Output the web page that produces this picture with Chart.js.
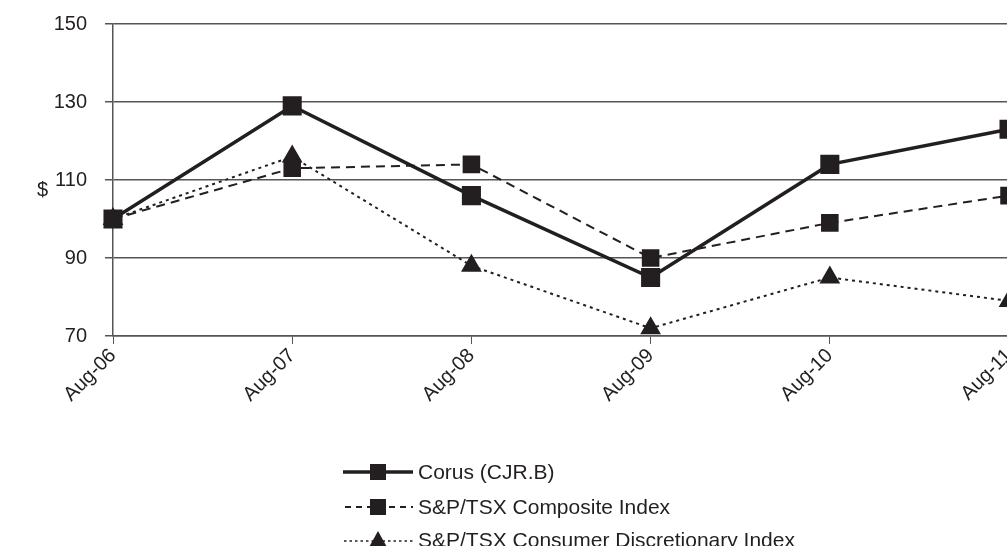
<!DOCTYPE html>
<html>
<head>
<meta charset="utf-8">
<script src="https://cdn.jsdelivr.net/npm/chart.js@4.4.1/dist/chart.umd.min.js"></script>
<style>
  html, body { margin: 0; padding: 0; background: #fff; overflow: hidden; }
  #wrap { position: relative; width: 1007px; height: 546px; overflow: hidden; font-family: "Liberation Sans", Arial, sans-serif; color: #231f20; }
  #box { position: absolute; left: 0; top: 0; width: 1026px; height: 546px; }
  #dollar { position: absolute; left: 37px; top: 178px; font-size: 20px; }
  .leg { position: absolute; left: 342px; height: 26px; display: flex; align-items: center; font-size: 21px; }
  .leg svg { margin-right: 4px; }
</style>
</head>
<body>
<div id="wrap">
  <div id="box"><canvas id="lineChart"></canvas></div>
  <div id="dollar">$</div>
  <div class="leg" style="top:459px">
    <svg width="72" height="26"><line x1="1" y1="13" x2="71" y2="13" stroke="#231f20" stroke-width="3.5"/><rect x="28" y="5" width="16" height="16" fill="#231f20"/></svg>
    <span>Corus (CJR.B)</span>
  </div>
  <div class="leg" style="top:494px">
    <svg width="72" height="26"><line x1="3" y1="13" x2="71" y2="13" stroke="#231f20" stroke-width="2" stroke-dasharray="6,5"/><rect x="28" y="5" width="16" height="16" fill="#231f20"/></svg>
    <span>S&amp;P/TSX Composite Index</span>
  </div>
  <div class="leg" style="top:527px">
    <svg width="72" height="26"><line x1="2" y1="14" x2="71" y2="14" stroke="#231f20" stroke-width="1.6" stroke-dasharray="2.5,3"/><polygon points="36,4 46,22 26,22" fill="#231f20"/></svg>
    <span>S&amp;P/TSX Consumer Discretionary Index</span>
  </div>
</div>
<script>
const labels = ["Aug-06", "Aug-07", "Aug-08", "Aug-09", "Aug-10", "Aug-11"];
const corus = [100, 129, 106, 85, 114, 123];
const composite = [100, 113, 114, 90, 99, 106];
const consumer = [100, 116, 88, 72, 85, 79];
const yTicks = [70, 90, 110, 130, 150];

const INK = "#231f20";

new Chart(document.getElementById("lineChart"), {
  type: "line",
  data: {
    labels,
    datasets: [
      {
        label: "Corus (CJR.B)",
        data: corus,
        borderColor: INK,
        backgroundColor: INK,
        borderWidth: 3.5,
        pointStyle: "rect",
        pointRadius: 11,
        tension: 0,
        clip: false
      },
      {
        label: "S&P/TSX Composite Index",
        data: composite,
        borderColor: INK,
        backgroundColor: INK,
        borderWidth: 2,
        borderDash: [9, 6],
        pointStyle: "rect",
        pointRadius: 11,
        tension: 0,
        clip: false
      },
      {
        label: "S&P/TSX Consumer Discretionary Index",
        data: consumer,
        borderColor: INK,
        backgroundColor: INK,
        borderWidth: 2,
        borderDash: [3, 4],
        pointStyle: "triangle",
        pointRadius: 10,
        tension: 0,
        clip: false
      }
    ]
  },
  options: {
    responsive: true,
    maintainAspectRatio: false,
    animation: false,
    events: [],
    layout: { padding: { top: 24, right: 0, left: 0, bottom: 0 } },
    plugins: { legend: { display: false }, tooltip: { enabled: false } },
    scales: {
      x: {
        offset: false,
        grid: { display: true, drawOnChartArea: false, color: "#555", tickLength: 8 },
        border: { color: "#555", width: 1.5 },
        ticks: {
          color: INK,
          font: { family: "Liberation Sans", size: 20 },
          minRotation: 45,
          maxRotation: 45,
          padding: 0
        },
        afterFit: s => { s.height = 210; }
      },
      y: {
        min: 70,
        max: 150,
        afterBuildTicks: s => { s.ticks = yTicks.map(v => ({ value: v })); },
        grid: { color: "#555", lineWidth: 1.5, tickLength: 8 },
        border: { color: "#555", width: 1.5 },
        ticks: {
          color: INK,
          font: { family: "Liberation Sans", size: 20 },
          padding: 18
        },
        afterFit: s => {
          s.width = 113;
          s.paddingTop = 0;
          s.paddingBottom = 0;
        }
      }
    }
  }
});
</script>
</body>
</html>
